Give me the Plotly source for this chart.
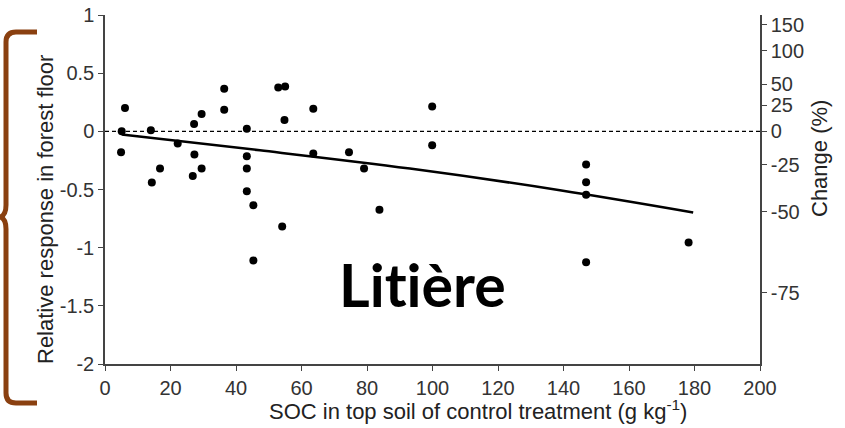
import numpy as np
import plotly.graph_objects as go

# SOC (g/kg) and relative response
soc = [5.1, 6.1, 4.9, 14.0, 14.3, 16.8, 22.2, 27.2, 27.3, 26.8, 29.5, 29.5,
       36.4, 36.4, 43.3, 43.3, 43.3, 43.3, 45.3, 45.3, 52.9, 55.0, 54.8, 54.1,
       63.6, 63.6, 74.5, 79.1, 83.8, 99.9, 99.9, 146.9, 146.9, 146.9, 146.9, 178.2]
response = [0.0, 0.20, -0.18, 0.01, -0.44, -0.32, -0.105, 0.063, -0.20, -0.385, 0.15, -0.32,
            0.366, 0.186, 0.023, -0.214, -0.32, -0.514, -0.635, -1.11, 0.377, 0.386, 0.098, -0.817,
            0.195, -0.19, -0.18, -0.32, -0.675, 0.214, -0.12, -0.286, -0.437, -0.546, -1.126, -0.955]

# fitted trend
fit_x = [5.1, 47.3, 93.1, 138.9, 179.6]
fit_y = [-0.028, -0.163, -0.32, -0.506, -0.697]

x_ticks = list(range(0, 201, 20))
y_ticks = [1, 0.5, 0, -0.5, -1, -1.5, -2]
change_ticks = [150, 100, 50, 25, 0, -25, -50, -75]

W, H = 845, 428
L, R, T, B = 105, 85, 15, 64
pw, ph = W - L - R, H - T - B


def px(x):
    return (x - L) / pw


def py(y):
    return (H - B - y) / ph


fig = go.Figure()
fig.add_trace(go.Scatter(x=fit_x, y=fit_y, mode="lines", line=dict(color="black", width=2.5, shape="spline"),
                         hoverinfo="skip"))
fig.add_trace(go.Scatter(x=soc, y=response, mode="markers", marker=dict(color="black", size=8)))
# invisible trace to carry the right axis
fig.add_trace(go.Scatter(x=[None], y=[None], yaxis="y2", showlegend=False))

tick_font = dict(family="Liberation Sans, Arial", size=20, color="#333")
axis_common = dict(showline=True, linecolor="#444", linewidth=1.5, ticks="outside", ticklen=5,
                   tickcolor="#444", showgrid=False, zeroline=False, tickfont=tick_font,
                   automargin=False)

fig.update_layout(
    width=W, height=H, margin=dict(l=L, r=R, t=T, b=B, autoexpand=False),
    paper_bgcolor="white", plot_bgcolor="white", showlegend=False,
    xaxis=dict(range=[0, 200], tickvals=x_ticks, **axis_common),
    yaxis=dict(range=[-2, 1], tickvals=y_ticks, ticktext=[f"{v:g}" for v in y_ticks], **axis_common),
    yaxis2=dict(range=[-2, 1], overlaying="y", side="right", anchor="x",
                tickvals=list(np.log1p(np.array(change_ticks) / 100)),
                ticktext=[str(v) for v in change_ticks], **axis_common),
)

# dashed zero line
fig.add_shape(type="line", xref="x", yref="y", x0=0, x1=200, y0=0, y1=0,
              line=dict(color="black", width=1.2, dash="4px,3px"))

# brown bracket on the left
pts = "M {},{} L {},{} Q {},{} {},{} L {},{} Q {},{} {},{} Q {},{} {},{} L {},{} Q {},{} {},{} L {},{}".format(
    px(37), py(32), px(16), py(32), px(6), py(32), px(6), py(42), px(6), py(205),
    px(6), py(215), px(0.5), py(217), px(6), py(219), px(6), py(229), px(6), py(393),
    px(6), py(403), px(16), py(403), px(37), py(403))
fig.add_shape(type="path", xref="paper", yref="paper", path=pts,
              line=dict(color="#8a4010", width=5))

title_font = dict(family="Liberation Sans, Arial", size=22, color="#222")
ann = dict(xref="paper", yref="paper", showarrow=False, xanchor="center", yanchor="middle")
fig.add_annotation(x=px(45), y=py(210), text="Relative response in forest floor",
                   textangle=-90, font=title_font, **ann)
fig.add_annotation(x=px(478), y=py(410), text="SOC in top soil of control treatment (g kg<sup>-1</sup>)",
                   font=title_font, **ann)
fig.add_annotation(x=px(820), y=py(159), text="Change (%)", textangle=-90, font=title_font, **ann)
fig.add_annotation(x=px(422), y=py(284), text="<b>Lit\u200cière</b>",
                   font=dict(family="Lato", size=59, color="black"), **ann)

fig.write_html("out.html", config={"displayModeBar": False},
               post_script="document.body.style.margin='0';")
